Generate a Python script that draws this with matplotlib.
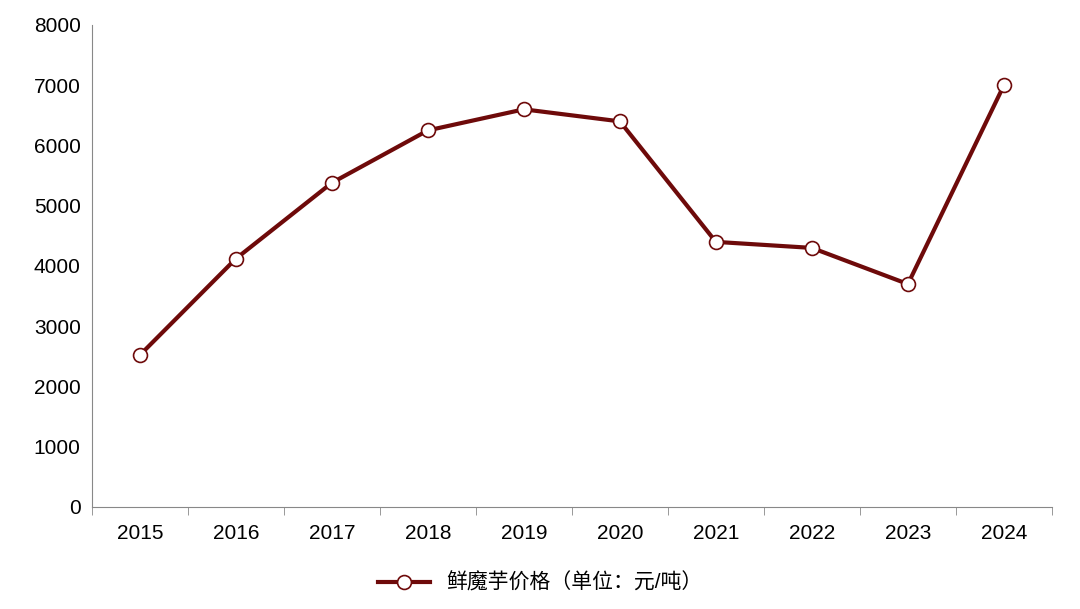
import matplotlib
matplotlib.use("Agg")
import matplotlib.pyplot as plt
import numpy as np

plt.rcParams['font.family'] = ['Liberation Sans', 'Noto Sans CJK SC', 'DejaVu Sans']

years = ["2015","2016","2017","2018","2019","2020","2021","2022","2023","2024"]
prices = [2520, 4120, 5380, 6250, 6600, 6400, 4400, 4300, 3700, 7000]
label = "鲜魔芋价格（单位：元/吨）"

fig = plt.figure(figsize=(10.8, 6.09), dpi=100)
ax = fig.add_axes([0.085, 0.1675, 0.889, 0.7915])
x = np.arange(len(years))
ax.plot(x, prices, color="#6E0A0A", lw=3, marker="o", ms=10,
        mfc="white", mec="#6E0A0A", mew=1.2, label=label)
ax.set_xlim(-0.5, len(years) - 0.5)
ax.set_ylim(0, 8000)
ax.set_yticks(range(0, 8001, 1000))
ax.set_xticks(x)
ax.set_xticklabels(years)
ax.set_xticks(np.arange(-0.5, len(years), 1), minor=True)
ax.tick_params(axis='x', which='major', length=0, labelsize=15, pad=12)
ax.tick_params(axis='x', which='minor', length=6, color="#888888")
ax.tick_params(axis='y', length=0, labelsize=15, pad=8)
for s in ["top", "right"]:
    ax.spines[s].set_visible(False)
ax.spines["left"].set_color("#888888")
ax.spines["bottom"].set_color("#888888")
fig.legend(loc="center", bbox_to_anchor=(0.5, 0.043), frameon=False,
           fontsize=15, handlelength=2.5)
fig.savefig("out.png", dpi=100)
